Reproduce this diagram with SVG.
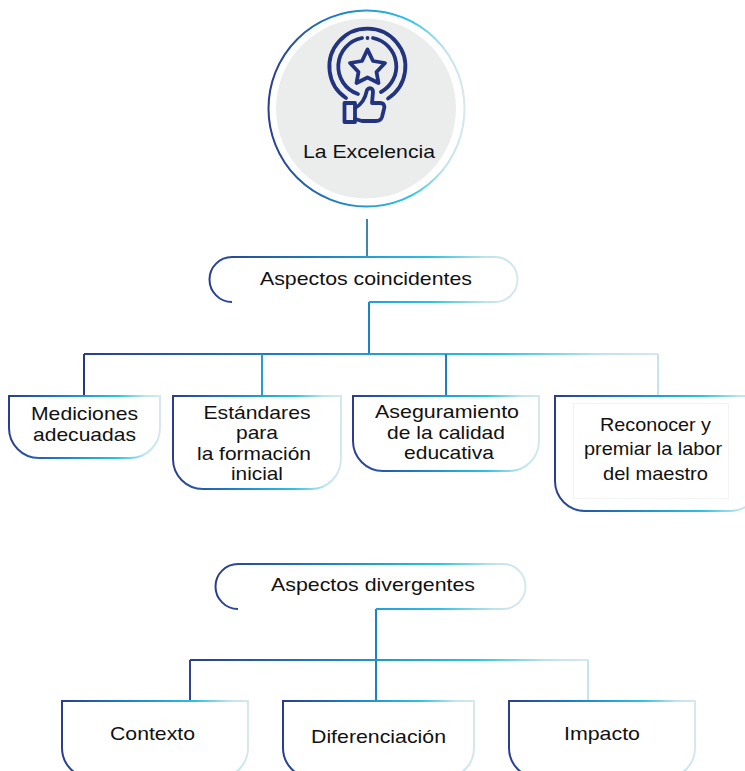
<svg xmlns="http://www.w3.org/2000/svg" width="745" height="771" viewBox="0 0 745 771">
<style>
text{font-family:"Liberation Sans",Arial,sans-serif;font-size:19px;fill:#111;text-anchor:middle}
.box{fill:#fff;stroke-width:2}
.ln{fill:none;stroke-width:2}
.ic{fill:none;stroke:#22337f;stroke-width:3.8;stroke-linejoin:round;stroke-linecap:round}
</style>
<defs>
<linearGradient id="g" x1="0" y1="0" x2="1" y2="0">
<stop offset="0" stop-color="#2a3d8f"/><stop offset=".35" stop-color="#1f7fc2"/><stop offset=".72" stop-color="#2cc2e6"/><stop offset=".9" stop-color="#bfe4ec"/><stop offset="1" stop-color="#d5e8ec"/>
</linearGradient>
<linearGradient id="b1" gradientUnits="userSpaceOnUse" x1="84" y1="0" x2="658" y2="0">
<stop offset="0" stop-color="#2a3d8f"/><stop offset=".35" stop-color="#1f7fc2"/><stop offset=".72" stop-color="#2cc2e6"/><stop offset=".9" stop-color="#bfe4ec"/><stop offset="1" stop-color="#d5e8ec"/>
</linearGradient>
<linearGradient id="b2" gradientUnits="userSpaceOnUse" x1="190" y1="0" x2="588" y2="0">
<stop offset="0" stop-color="#2a3d8f"/><stop offset=".35" stop-color="#1f7fc2"/><stop offset=".72" stop-color="#2cc2e6"/><stop offset=".9" stop-color="#bfe4ec"/><stop offset="1" stop-color="#d5e8ec"/>
</linearGradient>
</defs>
<g id="connectors">
<path class="ln" stroke="#3f86ad" d="M367 219V257"/>
<path class="ln" stroke="#1b82c4" d="M369 302V354"/>
<path class="ln" stroke="url(#b1)" d="M84 354H658"/>
<path class="ln" stroke="#24397f" d="M84 354V396"/>
<path class="ln" stroke="#2a9bd2" d="M262 354V396"/>
<path class="ln" stroke="#1f7fc2" d="M446 354V396"/>
<path class="ln" stroke="#c5e5ec" d="M658 354V396"/>
<path class="ln" stroke="#1b82c4" d="M376 609V700"/>
<path class="ln" stroke="url(#b2)" d="M190 660H588"/>
<path class="ln" stroke="#2f4590" d="M190 660V700"/>
<path class="ln" stroke="#c5e5ec" d="M588 660V700"/>
</g>
<g id="excelencia">
<circle cx="366.500" cy="108.500" r="98" fill="none" stroke="url(#g)" stroke-width="2"/>
<circle cx="366" cy="108.500" r="90" fill="#ebeded"/>
<g class="ic">
<path d="M346 98A38 38 0 1 1 388 98.500"/>
<path d="M362 38A29 29 0 0 0 358 94"/>
<path d="M373 38A29 29 0 0 1 381 92"/>
<path d="M367.500 38h.01"/>
<path d="M367.500 49.500L373 61L385 63L376.500 72L378.500 83L367.500 77.500L356.500 83L358.500 72L350 63L362 61Z"/>
<path d="M344.500 103H355V122H344.500Z"/>
<path d="M355 108C361 105 365 100 367 90C369 87 373 88 373 92L372 103H380C384 103 385 106 384 109L382 117C381 120 379 121 376 121H362L355 119"/>
</g>
<text x="369" y="157.500" textLength="132" lengthAdjust="spacingAndGlyphs">La Excelencia</text>
</g>
<g id="aspectos-coincidentes">
<path class="ln" stroke="url(#g)" d="M232 302A22.500 22.500 0 0 1 232 257H495A22.500 22.500 0 0 1 495 302H369"/>
<text x="366" y="284.500" textLength="212" lengthAdjust="spacingAndGlyphs">Aspectos coincidentes</text>
</g>
<g id="mediciones">
<path class="box" stroke="url(#g)" d="M9 396H160V428A30 30 0 0 1 130 458H39A30 30 0 0 1 9 428Z"/>
<text x="84.500" y="420" textLength="107" lengthAdjust="spacingAndGlyphs">Mediciones</text>
<text x="84.500" y="441" textLength="103" lengthAdjust="spacingAndGlyphs">adecuadas</text>
</g>
<g id="estandares">
<path class="box" stroke="url(#g)" d="M173 396H341V459A30 30 0 0 1 311 489H203A30 30 0 0 1 173 459Z"/>
<text x="257" y="419" textLength="107" lengthAdjust="spacingAndGlyphs">Estándares</text>
<text x="257" y="439" textLength="42" lengthAdjust="spacingAndGlyphs">para</text>
<text x="254" y="460" textLength="114" lengthAdjust="spacingAndGlyphs">la formación</text>
<text x="257" y="480" textLength="52" lengthAdjust="spacingAndGlyphs">inicial</text>
</g>
<g id="aseguramiento">
<path class="box" stroke="url(#g)" d="M353 396H539V441A30 30 0 0 1 509 471H383A30 30 0 0 1 353 441Z"/>
<text x="447" y="418" textLength="144" lengthAdjust="spacingAndGlyphs">Aseguramiento</text>
<text x="446" y="438.500" textLength="118" lengthAdjust="spacingAndGlyphs">de la calidad</text>
<text x="449" y="458.500" textLength="90" lengthAdjust="spacingAndGlyphs">educativa</text>
</g>
<g id="reconocer">
<path class="box" stroke="url(#g)" d="M555 396H760V481A30 30 0 0 1 730 511H585A30 30 0 0 1 555 481Z"/>
<rect x="573.500" y="403.500" width="155" height="95" fill="#fff" stroke="#f3f3f3"/>
<text x="655.500" y="431" textLength="111" lengthAdjust="spacingAndGlyphs">Reconocer y</text>
<text x="653" y="455" textLength="138" lengthAdjust="spacingAndGlyphs">premiar la labor</text>
<text x="655.500" y="480" textLength="105" lengthAdjust="spacingAndGlyphs">del maestro</text>
</g>
<g id="aspectos-divergentes">
<path class="ln" stroke="url(#g)" d="M238 609A22.500 22.500 0 0 1 238 564H503A22.500 22.500 0 0 1 503 609H376"/>
<text x="373" y="591" textLength="204" lengthAdjust="spacingAndGlyphs">Aspectos divergentes</text>
</g>
<g id="contexto">
<path class="box" stroke="url(#g)" d="M62 701H248V748A30 30 0 0 1 218 778H92A30 30 0 0 1 62 748Z"/>
<text x="152.500" y="740" textLength="85" lengthAdjust="spacingAndGlyphs">Contexto</text>
</g>
<g id="diferenciacion">
<path class="box" stroke="url(#g)" d="M283 701H474V748A30 30 0 0 1 444 778H313A30 30 0 0 1 283 748Z"/>
<text x="378.500" y="743" textLength="135" lengthAdjust="spacingAndGlyphs">Diferenciación</text>
</g>
<g id="impacto">
<path class="box" stroke="url(#g)" d="M509 701H695V748A30 30 0 0 1 665 778H539A30 30 0 0 1 509 748Z"/>
<text x="602" y="740" textLength="76" lengthAdjust="spacingAndGlyphs">Impacto</text>
</g>
</svg>
